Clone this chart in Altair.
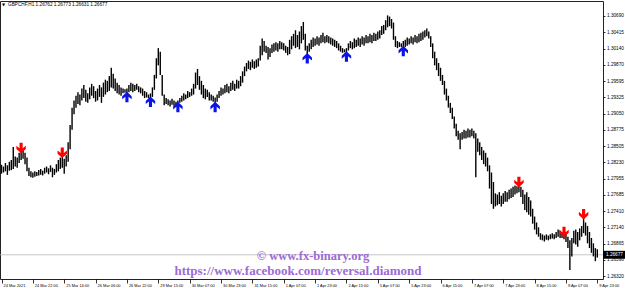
import altair as alt
import pandas as pd

# ---------------- data (prices in pips above 1.26000) ----------------
BASE = 1.26
HIGH = [
    219, 216, 222, 218, 224, 227, 249, 233, 231, 239,
    241, 243, 239, 231, 214, 208, 206, 208, 207, 210,
    212, 209, 214, 216, 213, 218, 214, 212, 220, 227,
    231, 233, 229, 235, 257, 286, 315, 327, 335, 341,
    337, 347, 353, 345, 339, 349, 355, 351, 343, 347,
    353, 349, 357, 362, 360, 368, 382, 372, 364, 357,
    353, 349, 347, 346, 347, 353, 357, 355, 353, 355,
    351, 349, 347, 343, 341, 337, 339, 349, 370, 398,
    415, 409, 370, 337, 331, 329, 327, 330, 327, 325,
    327, 331, 335, 339, 337, 343, 341, 347, 355, 374,
    380, 368, 360, 353, 347, 345, 341, 337, 335, 332,
    337, 343, 349, 347, 353, 355, 351, 357, 360, 355,
    362, 360, 368, 376, 384, 390, 394, 392, 396, 393,
    396, 398, 419, 431, 427, 419, 417, 415, 421, 423,
    425, 423, 427, 425, 423, 419, 417, 429, 435, 439,
    445, 437, 443, 452, 459, 439, 419, 423, 429, 433,
    431, 435, 433, 437, 441, 435, 437, 435, 433, 431,
    429, 427, 423, 419, 415, 413, 415, 423, 427, 425,
    431, 429, 433, 431, 435, 433, 437, 435, 439, 437,
    441, 439, 443, 445, 452, 454, 462, 470, 468, 464,
    458, 435, 427, 425, 423, 427, 429, 433, 431, 435,
    433, 437, 435, 439, 441, 443, 445, 448, 443, 435,
    423, 409, 398, 390, 382, 370, 360, 347, 335, 323,
    315, 300, 288, 276, 272, 274, 278, 276, 280, 278,
    280, 276, 272, 263, 257, 249, 243, 239, 231, 218,
    206, 190, 171, 169, 173, 167, 171, 175, 173, 177,
    179, 182, 184, 183, 184, 182, 177, 169, 173, 165,
    159, 145, 132, 122, 114, 104, 102, 100, 102, 100,
    102, 104, 102, 106, 110, 108, 104, 100, 102, 98,
    92, 96, 108, 110, 106, 112, 116, 130, 122, 116,
    106, 96, 87, 79, 77,
]
LOW = [
    204, 206, 208, 202, 209, 210, 212, 216, 214, 222,
    227, 229, 220, 208, 200, 198, 197, 199, 200, 201,
    202, 201, 204, 206, 203, 207, 198, 202, 206, 208,
    212, 214, 204, 216, 224, 245, 278, 304, 315, 321,
    319, 327, 331, 325, 323, 329, 335, 331, 325, 327,
    333, 323, 333, 337, 341, 343, 349, 347, 343, 339,
    337, 335, 339, 340, 339, 341, 343, 341, 343, 345,
    341, 339, 335, 331, 332, 331, 331, 333, 345, 364,
    386, 370, 335, 319, 321, 319, 317, 320, 318, 319,
    322, 323, 325, 327, 329, 331, 333, 335, 337, 347,
    353, 345, 337, 331, 329, 333, 327, 327, 325, 322,
    325, 331, 335, 337, 339, 341, 339, 343, 345, 343,
    347, 347, 351, 357, 368, 376, 380, 378, 382, 380,
    382, 384, 394, 403, 409, 407, 396, 400, 407, 409,
    411, 409, 413, 413, 411, 407, 403, 405, 413, 419,
    415, 417, 413, 423, 429, 411, 405, 409, 413, 417,
    419, 421, 419, 423, 425, 423, 425, 423, 421, 419,
    417, 415, 411, 409, 407, 408, 408, 411, 415, 413,
    415, 417, 419, 417, 421, 419, 423, 423, 425, 423,
    427, 427, 429, 431, 437, 439, 445, 450, 452, 448,
    429, 417, 415, 417, 417, 416, 417, 419, 421, 423,
    421, 425, 423, 425, 427, 429, 433, 435, 431, 417,
    398, 386, 378, 368, 360, 353, 337, 327, 315, 306,
    296, 280, 267, 261, 245, 261, 263, 263, 265, 265,
    267, 263, 198, 241, 235, 227, 220, 216, 208, 179,
    153, 145, 149, 151, 153, 149, 153, 157, 157, 161,
    163, 165, 169, 171, 173, 165, 153, 143, 139, 135,
    132, 120, 110, 102, 98, 93, 92, 90, 93, 92,
    94, 95, 94, 96, 98, 96, 96, 94, 89, 79,
    42, 65, 87, 85, 81, 92, 98, 104, 100, 87,
    79, 71, 65, 57, 63,
]

X_LABELS = [
    "24 Mar 2021", "24 Mar 22:00", "25 Mar 14:00", "26 Mar 06:00", "26 Mar 22:00",
    "29 Mar 15:00", "30 Mar 07:00", "30 Mar 23:00", "31 Mar 15:00", "1 Apr 07:00",
    "1 Apr 23:00", "2 Apr 15:00", "5 Apr 07:00", "5 Apr 23:00", "6 Apr 15:00",
    "7 Apr 07:00", "7 Apr 23:00", "8 Apr 15:00", "9 Apr 07:00", "9 Apr 23:00",
]
Y_TICKS = [
    1.30690, 1.30415, 1.30140, 1.29870, 1.29595, 1.29325, 1.29050, 1.28775,
    1.28505, 1.28230, 1.27955, 1.27685, 1.27410, 1.27140, 1.26865, 1.26590, 1.26320,
]
RED_I = [10, 31, 264, 287, 297]
RED_P = [247, 239, 190, 106, 136]
BLUE_I = [64, 76, 90, 109, 156, 176, 205]
BLUE_P = [333, 325, 316, 316, 398, 401, 410]
LAST = 1.26677
TITLE = "GBPCHF,H1  1.26762 1.26773 1.26631 1.26677"
WM1 = "© www.fx-binary.org"
WM2 = "https://www.facebook.com/reversal.diamond"

# ---------------- build ----------------
n = min(len(HIGH), len(LOW))
bars = pd.DataFrame({
    "i": list(range(n)),
    "hi": [BASE + h / 10000 for h in HIGH[:n]],
    "lo": [BASE + l / 10000 for l in LOW[:n]],
})
red = pd.DataFrame({"i": RED_I, "p": [BASE + v / 10000 for v in RED_P]})
blue = pd.DataFrame({"i": BLUE_I, "p": [BASE + v / 10000 for v in BLUE_P]})
last = pd.DataFrame({"p": [LAST], "t": [f"{LAST:.5f}"]})

xs = alt.Scale(domain=[-0.77, 306.9], nice=False, zero=False)
ys = alt.Scale(domain=[1.26270, 1.30942], nice=False, zero=False)

lab_arr = "[" + ",".join("'" + s + "'" for s in X_LABELS) + "]"
x_axis = alt.Axis(
    values=[16 * k for k in range(len(X_LABELS))],
    labelExpr=lab_arr + "[round(datum.value/16)]",
    orient="bottom", domain=False, grid=False, ticks=True, tickSize=4,
    tickColor="black", tickWidth=0.8, labelAlign="left", labelBaseline="top",
    labelPadding=0, labelOffset=1.5, labelFontSize=3.9, labelFont="Liberation Sans",
    labelColor="black", title=None, labelOverlap=False, labelFlush=False,
)
y_axis = alt.Axis(
    values=Y_TICKS, format=".5f", orient="right", domain=False, grid=False,
    tickSize=2, tickColor="black", tickWidth=0.8, labelPadding=1.5,
    labelFontSize=4.7, labelFont="Liberation Sans", labelColor="black",
    title=None, labelOverlap=False, labelFlush=False, labelBaseline="middle",
)

bar_layer = alt.Chart(bars).mark_rule(color="black", strokeWidth=1.4).encode(
    x=alt.X("i:Q", scale=xs, axis=x_axis),
    y=alt.Y("lo:Q", scale=ys, axis=y_axis),
    y2="hi:Q",
)

price_line = alt.Chart(last).mark_rule(color="#b8b8b8", strokeWidth=0.8).encode(
    y=alt.Y("p:Q", scale=ys, axis=y_axis)
)

DOWN = "M-0.3,-1 L0.3,-1 L0.3,0.05 L0.9,-0.45 L0.9,0.15 L0,1 L-0.9,0.15 L-0.9,-0.45 L-0.3,0.05 Z"
UP = "M-0.3,1 L0.3,1 L0.3,-0.05 L0.9,0.45 L0.9,-0.15 L0,-1 L-0.9,-0.15 L-0.9,0.45 L-0.3,-0.05 Z"

red_layer = alt.Chart(red).mark_point(shape=DOWN, filled=True, color="#ff0000",
                                      size=110, opacity=1, strokeWidth=0).encode(
    x=alt.X("i:Q", scale=xs, axis=x_axis), y=alt.Y("p:Q", scale=ys, axis=y_axis))
blue_layer = alt.Chart(blue).mark_point(shape=UP, filled=True, color="#0a14e6",
                                        size=110, opacity=1, strokeWidth=0).encode(
    x=alt.X("i:Q", scale=xs, axis=x_axis), y=alt.Y("p:Q", scale=ys, axis=y_axis))

box = alt.Chart(last).mark_point(shape="M-1,-0.36 L1,-0.36 L1,0.36 L-1,0.36 Z",
                                 filled=True, color="black", size=484, opacity=1,
                                 strokeWidth=0).encode(
    x=alt.value(614), y=alt.Y("p:Q", scale=ys, axis=y_axis))
box_text = alt.Chart(last).mark_text(align="left", baseline="middle", color="white",
                                     fontSize=4.7, font="Liberation Sans").encode(
    x=alt.value(606), y=alt.Y("p:Q", scale=ys, axis=y_axis), text="t:N")

title_df = pd.DataFrame({"t": [TITLE], "m": ["▼"]})
title_text = alt.Chart(title_df).mark_text(align="left", baseline="middle", fontSize=4.7,
                                           font="Liberation Sans", color="black").encode(
    x=alt.value(8), y=alt.value(4), text="t:N")
title_mark = alt.Chart(title_df).mark_text(align="left", baseline="middle", fontSize=4,
                                           font="DejaVu Sans", color="black").encode(
    x=alt.value(2), y=alt.value(4), text="m:N")

wm = pd.DataFrame({"a": [WM1], "b": [WM2]})
wm1 = alt.Chart(wm).mark_text(align="center", baseline="middle", fontSize=12.5,
                              font="Liberation Serif", fontWeight="bold",
                              color="#9b6bd3").encode(
    x=alt.value(313), y=alt.value(255), text="a:N")
wm2 = alt.Chart(wm).mark_text(align="center", baseline="middle", fontSize=13,
                              font="Liberation Serif", fontWeight="bold",
                              color="#9b6bd3").encode(
    x=alt.value(298), y=alt.value(270), text="b:N")

chart = alt.layer(
    price_line, bar_layer, red_layer, blue_layer, wm1, wm2,
    box, box_text, title_mark, title_text,
).properties(
    width=603, height=278,
    padding={"left": 0, "top": 1, "right": 22, "bottom": 9},
    autosize=alt.AutoSizeParams(type="none"),
    background="white",
).configure_view(
    stroke="#222222", strokeWidth=1
).configure_axis(
    labelOverlap=False, labelBound=False, labelFlush=False
)

chart.save("out.html", embed_options={"renderer": "svg", "actions": False})
